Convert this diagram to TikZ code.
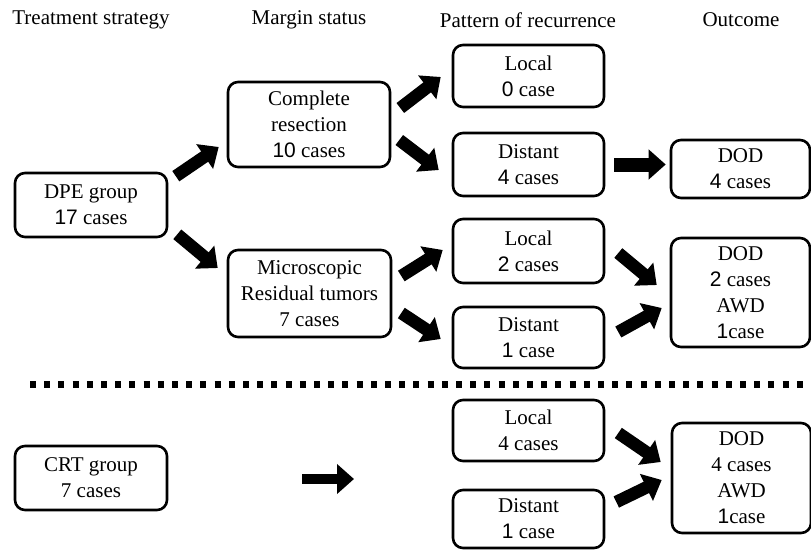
\documentclass[tikz,border=0pt]{standalone}
\usepackage{fontspec}
\setmainfont{Liberation Serif}
\newfontfamily\numfont{Liberation Sans}
\newcommand{\sansnum}[1]{{\numfont #1}}
\usetikzlibrary{arrows.meta}
\tikzset{
    every node/.style={font=\fontsize{21}{26}\selectfont}
}
\tikzset{
    box/.style={draw, line width=2.6pt, rounded corners=10pt, align=center,
    	inner sep=0pt}
}
\tikzset{
    blockarrow/.style={line width=12.5pt,
    	-{Triangle[length=17pt 0 0, width=29pt 0 0]}}
}
\tikzset{
    sepline/.style={line width=7pt, dash pattern=on 6pt off 8.2pt}
}

\begin{document}
\begin{tikzpicture}[x=1pt, y=-1pt]
	\useasboundingbox (0,0) rectangle (811,549);
	% column titles
	\node (h1) at ( 91, 20) {Treatment strategy};
	\node (h2) at (309, 20) {Margin status};
	\node (h3) at (528, 20) {Pattern of recurrence};
	\node (h4) at (741, 20) {Outcome};
	% DPE branch
	\node (dpe) [box, minimum width=152pt, minimum height=64pt] at ( 91, 205) {DPE group\\\sansnum{17} cases};
	\node (comp) [box, minimum width=162pt, minimum height=85pt] at (309, 124.5) {Complete\\resection\\\sansnum{10} cases};
	\node (micro) [box, minimum width=163pt, minimum height=87pt] at (309.5, 293.5) {Microscopic\\Residual tumors\\7 cases};
	\node (loc0) [box, minimum width=151pt, minimum height=62pt] at (528.5, 76) {Local\\\sansnum{0} case};
	\node (dist4) [box, minimum width=151pt, minimum height=63pt] at (528.5, 164.5) {Distant\\\sansnum{4} cases};
	\node (loc2) [box, minimum width=151pt, minimum height=64pt] at (528.5, 251) {Local\\\sansnum{2} cases};
	\node (dist1) [box, minimum width=151pt, minimum height=61pt] at (528.5, 337.5) {Distant\\\sansnum{1} case};
	\node (dod4) [box, minimum width=139pt, minimum height=58pt] at (740.5, 169) {DOD\\\sansnum{4} cases};
	\node (dod2) [box, minimum width=139pt, minimum height=109pt] at (740.5, 292.5) {DOD\\\sansnum{2} cases\\AWD\\\sansnum{1}case};
	% CRT branch
	\node (crt) [box, minimum width=152pt, minimum height=64pt] at ( 91, 478) {CRT group\\7 cases};
	\node (loc4) [box, minimum width=151pt, minimum height=61pt] at (528.5, 430.5) {Local\\4 cases};
	\node (dist1b) [box, minimum width=151pt, minimum height=58pt] at (528.5, 519) {Distant\\\sansnum{1} case};
	\node (dod4b) [box, minimum width=139pt, minimum height=110pt] at (741.5, 478) {DOD\\4 cases\\AWD\\\sansnum{1}case};
	\coordinate (crtgap) at (302, 479);
	% separator
	\draw[sepline] (30,384) -- (811,384);
	% arrows
	\draw[blockarrow] ([shift={(7.5,4.5)}]dpe.north east) -- ([shift={(-8,22.5)}]comp.west);
	\draw[blockarrow] ([shift={(9,-4)}]dpe.south east) -- ([shift={(-9,-25.5)}]micro.west);
	\draw[blockarrow] ([shift={(9,-16.5)}]comp.east) -- ([shift={(-11,1)}]loc0.west);
	\draw[blockarrow] ([shift={(8,15.5)}]comp.east) -- ([shift={(-13,5.5)}]dist4.west);
	\draw[blockarrow, line width=14pt] ([shift={(9,0)}]dist4.east) -- ([shift={(-4,-4.5)}]dod4.west);
	\draw[blockarrow] ([shift={(9,-17.5)}]micro.east) -- ([shift={(-9,-1)}]loc2.west);
	\draw[blockarrow] ([shift={(9,19.5)}]micro.east) -- ([shift={(-11,1.5)}]dist1.west);
	\draw[blockarrow] ([shift={(13,2)}]loc2.east) -- ([shift={(-13,-7.5)}]dod2.west);
	\draw[blockarrow] ([shift={(13,-5.5)}]dist1.east) -- ([shift={(-8,15.5)}]dod2.west);
	\draw[blockarrow, line width=10.5pt] (crtgap) -- ++(52,0);
	\draw[blockarrow] ([shift={(13,2.5)}]loc4.east) -- ([shift={(-10,-16)}]dod4b.west);
	\draw[blockarrow] ([shift={(11,-17)}]dist1b.east) -- ([shift={(-9,2)}]dod4b.west);
\end{tikzpicture}
\end{document}
